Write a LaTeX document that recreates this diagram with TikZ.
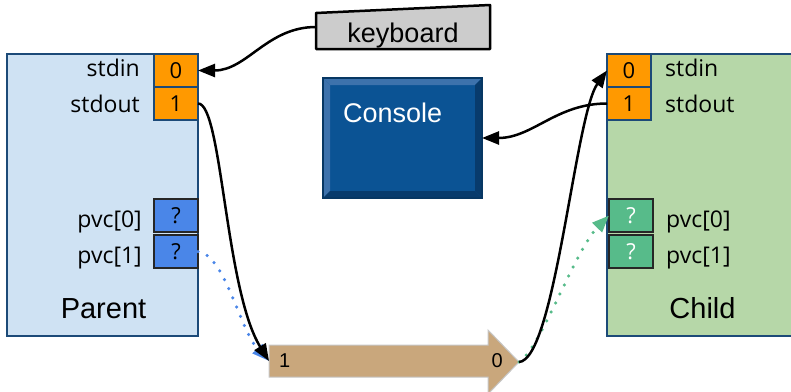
\documentclass[tikz,border=0pt]{standalone}
\usepackage{fontspec}
\setmainfont{Liberation Sans}
\newfontfamily\labelfont{Open Sans}
\usetikzlibrary{arrows.meta,calc}
\definecolor{parentbg}{HTML}{CFE2F3}
\definecolor{childbg}{HTML}{B6D7A8}
\definecolor{edgeblue}{HTML}{1C4A78}
\definecolor{fdorange}{HTML}{FF9900}
\definecolor{pvcblue}{HTML}{4A86E8}
\definecolor{pvcgreen}{HTML}{57BB8A}
\definecolor{pipetan}{HTML}{C9A77C}
\definecolor{consolebg}{HTML}{0B5394}
\definecolor{bevlight}{HTML}{3D72AC}
\definecolor{bevdark}{HTML}{083B6C}
\definecolor{consoleedge}{HTML}{073763}
\definecolor{kbgray}{HTML}{CCCCCC}
\begin{document}
\begin{tikzpicture}[x=1pt,y=-1pt,
  proc/.style={draw=edgeblue,line width=2.5pt,inner sep=0pt,outer sep=0pt},
  fdbox/.style={draw=edgeblue,line width=2pt,fill=fdorange,minimum width=44pt,
    minimum height=33pt,inner sep=0pt,outer sep=0pt,font=\labelfont\fontsize{22}{24}\selectfont},
  pvcbox/.style={draw=black!85,line width=1.5pt,minimum width=44pt,minimum height=33pt,
    inner sep=0pt,outer sep=0pt,font=\labelfont\fontsize{22}{24}\selectfont},
  lbl/.style={inner sep=0pt,font=\labelfont\fontsize{23}{26}\selectfont},
  title/.style={inner sep=0pt,font=\fontsize{29}{32}\selectfont},
  wire/.style={line width=2.5pt,-{Triangle[length=17pt,width=13pt]}},
  dots/.style={line width=3.5pt,line cap=round,dash pattern=on 0pt off 10pt,
    -{Triangle[length=17pt,width=13pt]}}
]
\useasboundingbox (0,0) rectangle (791,391);
\begin{scope}
\clip (0,0) rectangle (791,391);
% the two processes
\node[proc,fill=parentbg,minimum width=191pt,minimum height=282pt] (parent) at (102.5,195) {};
\node[proc,fill=childbg,minimum width=200pt,minimum height=282pt,anchor=north west] (child) at (607,54) {};
% file descriptors
\node[fdbox,anchor=north east] (p0) at (parent.north east) {0};
\node[fdbox,anchor=north] (p1) at (p0.south) {1};
\node[fdbox,anchor=north west] (c0) at (child.north west) {0};
\node[fdbox,anchor=north] (c1) at (c0.south) {1};
\node[pvcbox,fill=pvcblue] (pp0) at (176,215.5) {?};
\node[pvcbox,fill=pvcblue] (pp1) at (176,251.5) {?};
\node[pvcbox,fill=pvcgreen,text=white] (cp0) at (631,215.5) {?};
\node[pvcbox,fill=pvcgreen,text=white] (cp1) at (631,251.5) {?};
% labels
\node[lbl,anchor=base east] (pin) at (140,76) {stdin};
\node[lbl,anchor=base east] (pout) at (140,112) {stdout};
\node[lbl,anchor=base east] (ppvc0) at (142,227) {pvc[0]};
\node[lbl,anchor=base east] (ppvc1) at (142,263) {pvc[1]};
\node[title,anchor=base] (ptitle) at (103.5,318) {Parent};
\node[lbl,anchor=base west] (cin) at (665,76) {stdin};
\node[lbl,anchor=base west] (cout) at (665,112) {stdout};
\node[lbl,anchor=base west] (cpvc0) at (666,227) {pvc[0]};
\node[lbl,anchor=base west] (cpvc1) at (666,263) {pvc[1]};
\node[title,anchor=base] (ctitle) at (702.5,318) {Child};
% keyboard
\node[minimum width=174pt,minimum height=44pt,inner sep=0pt,outer sep=0pt] (kb) at (403,27) {};
\draw[line width=2.5pt,fill=kbgray,line join=round] (kb.south west) -- (kb.south east)
  -- (kb.north east) -- ($(kb.north west)+(0,8)$) -- cycle;
\node[anchor=base,inner sep=0pt,font=\fontsize{27}{30}\selectfont] (kbtxt) at ($(kb.south)+(0,-7)$) {keyboard};
% console
\node[minimum width=159pt,minimum height=120pt,inner sep=0pt,outer sep=0pt,fill=consolebg] (console) at (402.5,138) {};
\fill[bevlight] (console.north west) -- (console.north east) -- ($(console.north east)+(-7,7)$)
  -- ($(console.north west)+(7,7)$) -- cycle;
\fill[bevlight] (console.north west) -- ($(console.north west)+(7,7)$)
  -- ($(console.south west)+(7,-7)$) -- (console.south west) -- cycle;
\fill[bevdark] (console.south west) -- ($(console.south west)+(7,-7)$)
  -- ($(console.south east)+(-7,-7)$) -- (console.south east) -- cycle;
\fill[bevdark] (console.south east) -- ($(console.south east)+(-7,-7)$)
  -- ($(console.north east)+(-7,7)$) -- (console.north east) -- cycle;
\draw[consoleedge,line width=1.5pt] (console.north west) rectangle (console.south east);
\node[anchor=base west,inner sep=0pt,text=white,font=\fontsize{27}{30}\selectfont] (contxt)
  at ($(console.north west)+(20,44)$) {Console};
% pipe
\coordinate (pipein) at (269,361);
\coordinate (pipeout) at (519,362);
\draw[fill=pipetan,draw=gray!45,line width=1pt] (pipein) ++(0,-16) -- (488,345) -- (488,330)
  -- (pipeout) -- (488,394) -- (488,377) -- (269,377) -- cycle;
\node[anchor=base west,inner sep=0pt,font=\fontsize{20}{22}\selectfont] (pipeone) at (279,367) {1};
\node[anchor=base east,inner sep=0pt,font=\fontsize{20}{22}\selectfont] (pipezero) at (503,367) {0};
% connectors
\draw[dots,pvcblue] (pp1.east) .. controls (225,255) and (240,330) .. (pipein);
\draw[dots,pvcgreen] (pipeout) .. controls (540,350) and (575,250) .. (cp0.west);
\draw[wire] (kb.west) to[out=180,in=0] (p0.east);
\draw[wire] (p1.east) .. controls (222,103) and (225,290) .. (pipein);
\draw[wire] (c1.west) to[out=180,in=0] (console.east);
\draw[wire] (pipeout) .. controls (555,360) and (575,115) .. (c0.west);
\end{scope}
\end{tikzpicture}
\end{document}
